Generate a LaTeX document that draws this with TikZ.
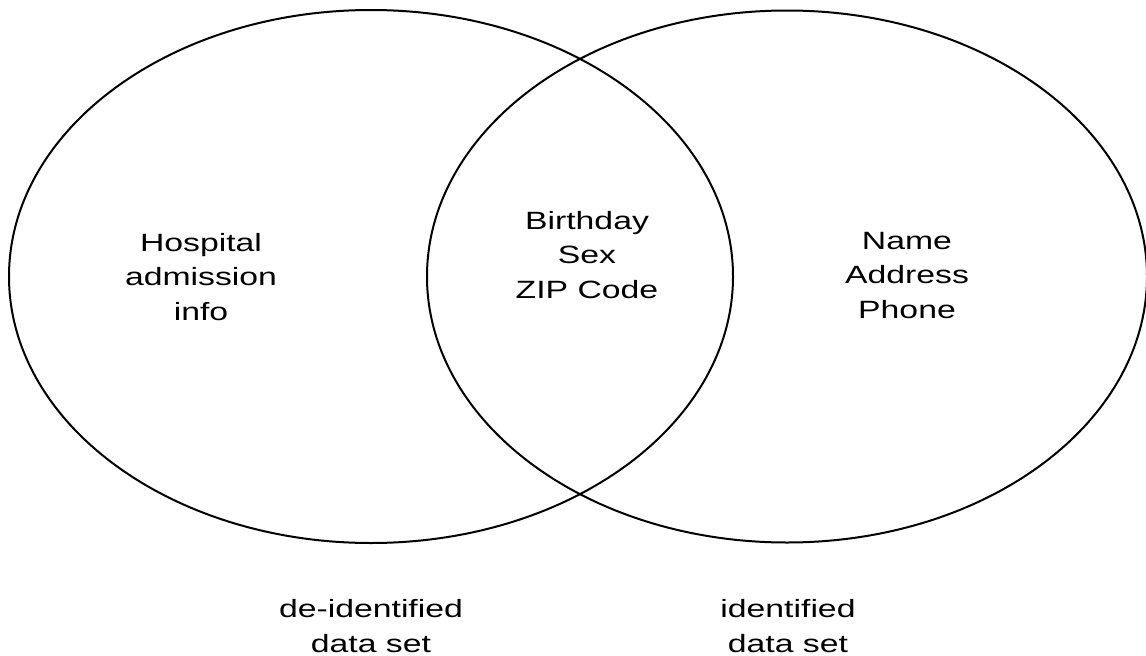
\documentclass[tikz,border=0pt]{standalone}
\usepackage{fontspec}
\setmainfont{Liberation Sans}[FakeStretch=1.35]
\tikzset{
  setline/.style={line width=2pt, draw=black},
  lbl/.style={align=center, font=\fontsize{25}{34.5}\selectfont, inner sep=0pt, anchor=base}
}
\begin{document}
\begin{tikzpicture}[x=1pt,y=-1pt]
\useasboundingbox (0,0) rectangle (1146,656);
\draw[setline] (371,276.5) ellipse [x radius=362, y radius=266.5];
\draw[setline] (787,276.5) ellipse [x radius=360, y radius=266];
\node[lbl] (deid) at (201,320) {Hospital\\admission\\info};
\node[lbl] (both) at (587,298) {Birthday\\Sex\\ZIP Code};
\node[lbl] (id) at (907,318) {Name\\Address\\Phone};
\node[lbl] (deidlbl) at (371,652) {de-identified\\data set};
\node[lbl] (idlbl) at (788,652) {identified\\data set};
\end{tikzpicture}
\end{document}
